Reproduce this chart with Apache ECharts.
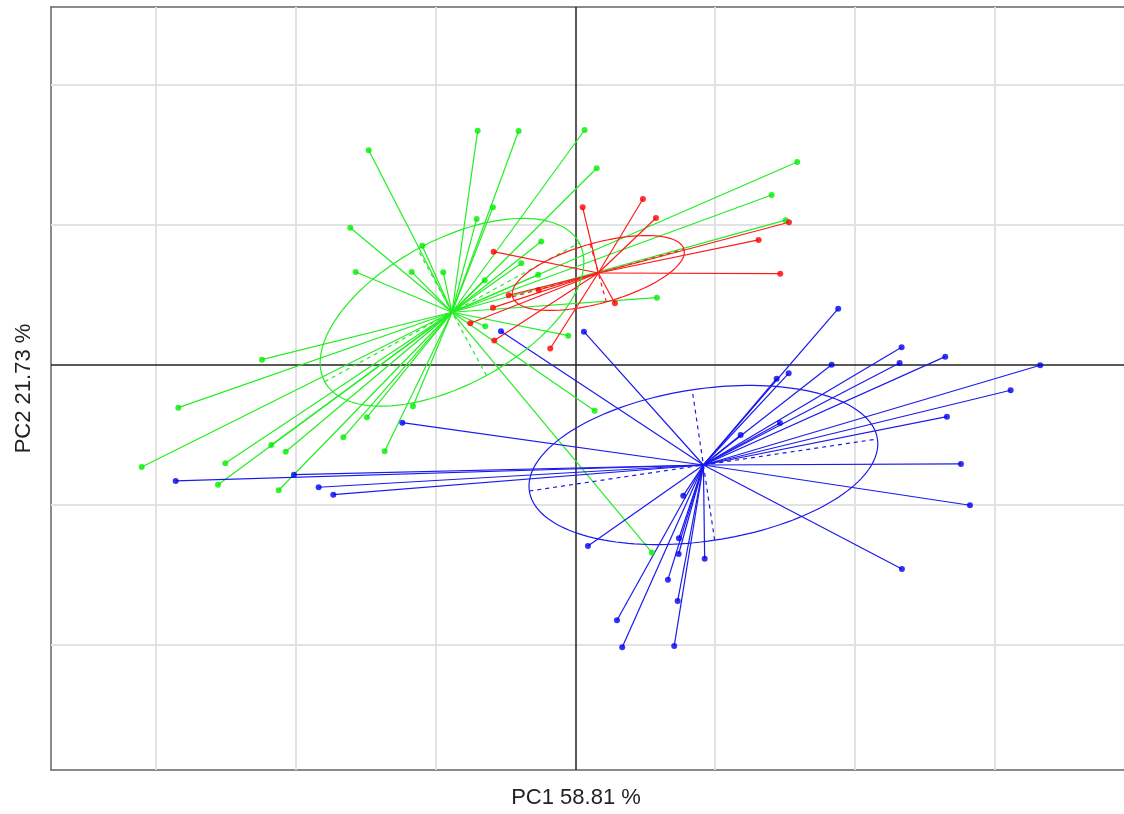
<!DOCTYPE html>
<html>
<head>
<meta charset="utf-8">
<script src="https://cdn.jsdelivr.net/npm/echarts@6/dist/echarts.min.js"></script>
<style>html,body{margin:0;padding:0;background:#fff;}#c{width:1124px;height:814px;}</style>
</head>
<body>
<div id="c"></div>
<script>
// ---- data (PC1, PC2 scores) ----
const greenCentroid = [-1.761, 0.753];
const greenPoints = [
  [-2.951, 3.067], [-3.214, 1.961], [-3.137, 1.329], [-2.186, 1.704], [-2.337, 1.329],
  [-1.886, 1.324], [-4.476, 0.076], [-1.394, 3.347], [-0.809, 3.343], [0.134, 3.357],
  [0.306, 2.810], [-1.176, 2.253], [-1.409, 2.086], [-0.486, 1.764], [-0.771, 1.453],
  [-0.529, 1.290], [-1.294, 1.211], [-1.286, 0.553], [-0.100, 0.419], [1.167, 0.961],
  [3.171, 2.900], [2.806, 2.429], [3.006, 2.069], [0.277, -0.653], [1.096, -2.681],
  [-5.671, -0.610], [-6.194, -1.457], [-5.000, -1.404], [-4.343, -1.143], [-4.137, -1.239],
  [-5.104, -1.710], [-4.237, -1.790], [-3.314, -1.033], [-2.976, -0.747], [-2.723, -1.233],
  [-2.319, -0.590]
];
const redCentroid = [0.329, 1.314];
const redPoints = [
  [0.106, 2.253], [0.967, 2.371], [1.153, 2.100], [-1.166, 1.619], [-0.951, 0.996],
  [-0.523, 1.071], [-1.176, 0.819], [-1.500, 0.596], [-1.157, 0.350], [-0.357, 0.236],
  [0.567, 0.881], [3.053, 2.039], [2.620, 1.786], [2.929, 1.304]
];
const blueCentroid = [1.831, -1.429];
const bluePoints = [
  [1.543, -1.867], [0.181, -2.586], [1.481, -2.476], [1.477, -2.700], [1.849, -2.767],
  [1.324, -3.067], [1.463, -3.371], [0.596, -3.647], [0.671, -4.033], [1.414, -4.014],
  [2.363, -1.000], [2.924, -0.829], [6.220, -0.361], [5.310, -0.739], [5.510, -1.414],
  [5.639, -2.004], [4.667, -2.914], [3.757, 0.804], [4.663, 0.253], [4.634, 0.029],
  [5.286, 0.119], [3.663, 0.004], [3.049, -0.119], [2.877, -0.196], [6.643, -0.004],
  [-1.061, 0.481], [0.124, 0.476], [-2.471, -0.824], [-5.709, -1.657], [-4.019, -1.567],
  [-3.666, -1.747], [-3.457, -1.853]
];
// ellipse parameters: [semi-major, semi-minor, angle in degrees]
const greenEllipse = [2.071, 1.029, 28.6];
const redEllipse = [1.271, 0.429, 15.5];
const blueEllipse = [2.514, 1.086, 8.5];
// grid line positions
const gridX = [-6, -4, -2, 2, 4, 6];
const gridY = [-4, -2, 2, 4];
const xTitle = 'PC1 58.81 %';
const yTitle = 'PC2 21.73 %';

// ---- build ----
const xMin = -7.49, xMax = 7.84, yMin = -5.786, yMax = 5.114;
function ellipsePts(c, e) {
  const t = e[2] * Math.PI / 180, pts = [];
  for (let i = 0; i <= 160; i++) {
    const u = 2 * Math.PI * i / 160;
    pts.push([
      c[0] + e[0] * Math.cos(u) * Math.cos(t) - e[1] * Math.sin(u) * Math.sin(t),
      c[1] + e[0] * Math.cos(u) * Math.sin(t) + e[1] * Math.sin(u) * Math.cos(t)
    ]);
  }
  return pts;
}
function axesSegs(c, e) {
  const t = e[2] * Math.PI / 180;
  const ma = [e[0] * Math.cos(t), e[0] * Math.sin(t)];
  const mi = [-e[1] * Math.sin(t), e[1] * Math.cos(t)];
  return [
    { coords: [[c[0] - ma[0], c[1] - ma[1]], [c[0] + ma[0], c[1] + ma[1]]] },
    { coords: [[c[0] - mi[0], c[1] - mi[1]], [c[0] + mi[0], c[1] + mi[1]]] }
  ];
}
function group(name, color, lineColor, centroid, points, ell) {
  return [
    { type: 'lines', coordinateSystem: 'cartesian2d', silent: true, z: 3,
      lineStyle: { color: lineColor, width: 1.2, opacity: 1 },
      data: points.map(p => ({ coords: [centroid, p] })) },
    { type: 'line', data: ellipsePts(centroid, ell), showSymbol: false, silent: true, z: 3,
      lineStyle: { color: lineColor, width: 1.2 } },
    { type: 'lines', coordinateSystem: 'cartesian2d', silent: true, z: 3,
      lineStyle: { color: lineColor, width: 1.2, type: [4, 4], opacity: 1 },
      data: axesSegs(centroid, ell) },
    { type: 'scatter', name: name, data: points, symbol: 'circle', symbolSize: 6, z: 4,
      itemStyle: { color: color } }
  ];
}
const gridLines = gridX.map(v => ({ coords: [[v, yMin], [v, yMax]] }))
  .concat(gridY.map(v => ({ coords: [[xMin, v], [xMax, v]] })));
const zeroLines = [{ coords: [[0, yMin], [0, yMax]] }, { coords: [[xMin, 0], [xMax, 0]] }];

const chart = echarts.init(document.getElementById('c'));
const border = { show: true, onZero: false, lineStyle: { color: '#666', width: 1.5 } };
chart.setOption({
  animation: false,
  backgroundColor: '#fff',
  grid: { left: 51, top: 7, width: (xMax - xMin) * 70, height: (yMax - yMin) * 70 },
  xAxis: [
    { type: 'value', min: xMin, max: xMax, position: 'bottom', axisLine: border, axisTick: { show: false },
      axisLabel: { show: false }, splitLine: { show: false } },
    { type: 'value', min: xMin, max: xMax, position: 'top', axisLine: border, axisTick: { show: false },
      axisLabel: { show: false }, splitLine: { show: false } }
  ],
  yAxis: { type: 'value', min: yMin, max: yMax, position: 'left', axisLine: border, axisTick: { show: false },
           axisLabel: { show: false }, splitLine: { show: false },
           name: yTitle, nameLocation: 'middle', nameGap: 16, nameRotate: 90,
           nameTextStyle: { fontFamily: 'Liberation Sans', fontSize: 22, color: '#222' } },
  graphic: [{ type: 'text', x: 576, y: 798,
              style: { text: xTitle, fontFamily: 'Liberation Sans', fontSize: 22, fill: '#222',
                       textAlign: 'center', textVerticalAlign: 'middle' } }],
  series: [
    { type: 'lines', coordinateSystem: 'cartesian2d', silent: true, z: 1,
      lineStyle: { color: '#e2e2e2', width: 2, opacity: 1 }, data: gridLines },
    { type: 'lines', coordinateSystem: 'cartesian2d', silent: true, z: 2,
      lineStyle: { color: '#222', width: 1.5, opacity: 1 }, data: zeroLines }
  ].concat(
    group('green', '#00ee00', '#22ee22', greenCentroid, greenPoints, greenEllipse),
    group('red', '#ff0000', '#ff1a1a', redCentroid, redPoints, redEllipse),
    group('blue', '#0000ee', '#1a1aee', blueCentroid, bluePoints, blueEllipse)
  )
});
</script>
</body>
</html>
